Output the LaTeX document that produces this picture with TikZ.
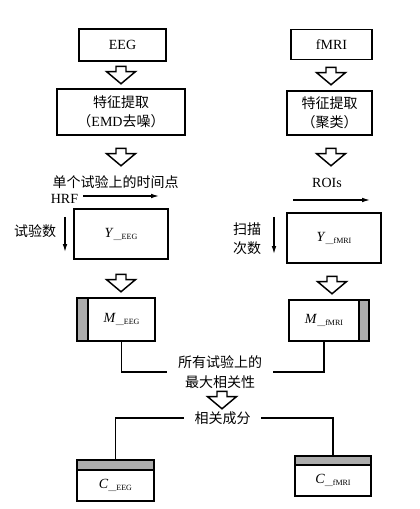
\documentclass[tikz,border=0pt]{standalone}
\usepackage{fontspec}
\setmainfont{Liberation Serif}
\newfontfamily\cjk{Noto Sans CJK SC}
\usetikzlibrary{positioning, arrows.meta, shapes.arrows}
\tikzset{box/.style={draw, line width=1.1pt, inner sep=0pt, align=center},
         bar/.style={draw, line width=1.1pt, inner sep=0pt, fill=gray!65},
         hollow/.style={single arrow, draw, line width=1.1pt, shape border rotate=270,
                        minimum height=13pt, minimum width=16.5pt, inner sep=3.2pt,
                        single arrow tip angle=100},
         txt/.style={align=center, inner sep=0pt},
         thin/.style={line width=0.9pt, -{Latex[length=6pt, width=3.5pt]}}}
\newcommand{\sub}[2]{\textit{#1}\raisebox{-1.5pt}{\fontsize{6}{6}\selectfont\_\_#2}}

\begin{document}
\begin{tikzpicture}[x=0.75pt, y=-0.75pt, every node/.style={font=\fontsize{10.5}{14.5}\selectfont}]
        \useasboundingbox (0,0) rectangle (419,509);

        % Nodes
        \node[box, minimum width=65.25pt, minimum height=24pt] (eeg) at (122.5,45) {EEG};
        \node[hollow] (a1) at (121,73) {};
        \node[box, minimum width=96pt, minimum height=34.5pt] (feeg) at (121,112) {{\cjk 特征提取}\\{\cjk （}EMD{\cjk 去噪）}};
        \node[hollow] (a2) at (121,155) {};
        \node[txt] (tp) at (115.5,182) {\cjk 单个试验上的时间点};
        \node[txt] (hrf) at (64.5,199) {HRF};
        \node[box, minimum width=70.5pt, minimum height=37.5pt] (yeeg) at (121,234) {\sub{Y}{EEG}};
        \node[txt] (trials) at (35,231) {\cjk 试验数};
        \node[hollow] (a3) at (121,281) {};
        \node[bar, minimum width=8.25pt, minimum height=32.25pt] (meegbar) at (82.5,319.5) {};
        \node[box, minimum width=50.25pt, minimum height=32.25pt, right=-1.1pt of meegbar] (meeg) {\sub{M}{EEG}};

        \node[box, minimum width=60.75pt, minimum height=22.5pt] (fmri) at (331.5,44.5) {fMRI};
        \node[hollow] (b1) at (331,74) {};
        \node[box, minimum width=63.75pt, minimum height=33pt] (ffmri) at (329.5,113) {{\cjk 特征提取}\\{\cjk （聚类）}};
        \node[hollow] (b2) at (331,155) {};
        \node[txt] (rois) at (327,183) {ROIs};
        \node[box, minimum width=70.5pt, minimum height=37.5pt] (yfmri) at (334,238) {\sub{Y}{fMRI}};
        \node[txt] (scans) at (247,238.5) {\cjk 扫描\\\cjk 次数};
        \node[hollow] (b3) at (332,283) {};
        \node[bar, minimum width=7.5pt, minimum height=30.75pt] (mfmribar) at (364,320.5) {};
        \node[box, minimum width=52.5pt, minimum height=30.75pt, left=-1.1pt of mfmribar] (mfmri) {\sub{M}{fMRI}};

        \node[txt, inner xsep=8pt] (corr) at (220,372) {\cjk 所有试验上的\\\cjk 最大相关性};
        \node[hollow] (a4) at (222,398) {};
        \node[txt, inner xsep=8pt] (cc) at (222.5,418) {\cjk 相关成分};

        \node[bar, minimum width=57.75pt, minimum height=7.5pt] (ceegbar) at (115.5,465) {};
        \node[box, minimum width=57.75pt, minimum height=23.25pt, below=-1.1pt of ceegbar] (ceeg) {\sub{C}{EEG}};
        \node[bar, minimum width=57pt, minimum height=6.75pt] (cfmribar) at (333,460.5) {};
        \node[box, minimum width=57pt, minimum height=23.25pt, below=-1.1pt of cfmribar] (cfmri) {\sub{C}{fMRI}};

        \coordinate (hrfs) at (83,196);
        \coordinate (hrfe) at (159,196);
        \coordinate (trs) at (65,217);
        \coordinate (tre) at (65,252);
        \coordinate (rois1) at (293,200);
        \coordinate (rois2) at (370,200);
        \coordinate (scs) at (274,217);
        \coordinate (sce) at (274,254);

        % Edges
        \draw[thin] (hrfs) -- (hrfe);
        \draw[thin] (trs) -- (tre);
        \draw[thin] (rois1) -- (rois2);
        \draw[thin] (scs) -- (sce);
        \draw[line width=0.9pt] (meeg.south) |- (corr.west);
        \draw[line width=0.9pt] (mfmri.south) |- (corr.east);
        \draw[line width=0.9pt] (cc.west) -| (ceegbar.north);
        \draw[line width=0.9pt] (cc.east) -| (cfmribar.north);

    \end{tikzpicture}
\end{document}
